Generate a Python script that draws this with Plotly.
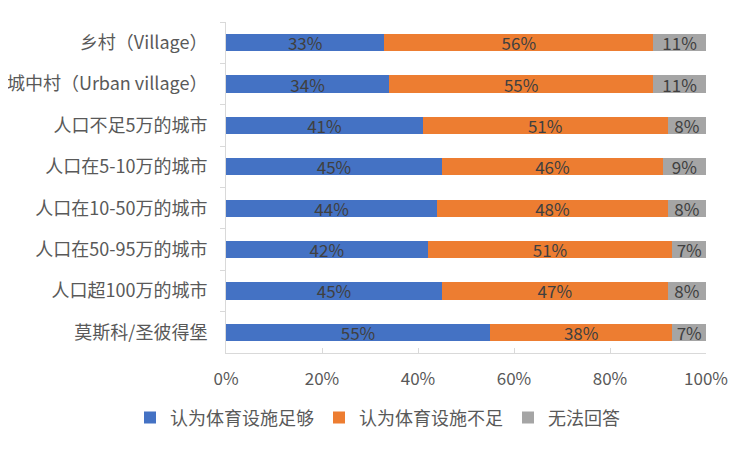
import plotly.graph_objects as go

categories = ["乡村（Village）", "城中村（Urban village）", "人口不足5万的城市", "人口在5-10万的城市",
              "人口在10-50万的城市", "人口在50-95万的城市", "人口超100万的城市", "莫斯科/圣彼得堡"]
enough = [33, 34, 41, 45, 44, 42, 45, 55]
insufficient = [56, 55, 51, 46, 48, 51, 47, 38]
no_answer = [11, 11, 8, 9, 8, 7, 8, 7]
series_names = ["认为体育设施足够", "认为体育设施不足", "无法回答"]
colors = ["#4472C4", "#ED7D31", "#A5A5A5"]

font_family = "Noto Sans CJK SC, Noto Sans, sans-serif"
fig = go.Figure()
for name, vals, col in zip(series_names, [enough, insufficient, no_answer], colors):
    fig.add_trace(go.Bar(
        y=categories, x=vals, name=name, orientation="h",
        marker=dict(color=col, line=dict(width=0)),
        text=[f"{v}%" for v in vals], textposition="inside", insidetextanchor="middle",
        textangle=0,
        textfont=dict(color="#404040", size=17, family=font_family),
        constraintext="none", cliponaxis=False,
    ))

fig.update_layout(
    barmode="stack", bargap=0.585,
    width=750, height=450,
    margin=dict(l=218, r=52, t=14, b=105),
    paper_bgcolor="white", plot_bgcolor="white",
    font=dict(family=font_family, size=17, color="#595959"),
    uniformtext=dict(mode=False),
    legend=dict(orientation="h", x=-0.2, xanchor="left", y=-0.196, yanchor="middle",
                font=dict(size=18, color="#595959"), traceorder="normal",
                itemwidth=30, tracegroupgap=0),
    xaxis=dict(range=[0, 100], tickvals=[0, 20, 40, 60, 80, 100],
               ticktext=["0%", "20%", "40%", "60%", "80%", "100%"],
               showgrid=False, zeroline=False, showline=True, linecolor="#D9D9D9", linewidth=1,
               ticks="inside", ticklen=5, tickcolor="#D9D9D9", automargin=False,
               ticklabelstandoff=11,
               tickfont=dict(size=17, color="#595959"), fixedrange=True),
    yaxis=dict(autorange="reversed", showgrid=False, showline=True, linecolor="#D9D9D9",
               linewidth=1, ticks="outside", ticklen=5, tickcolor="#D9D9D9", automargin=False,
               tickson="boundaries", ticklabelstandoff=14,
               tickfont=dict(size=18, color="#595959"), fixedrange=True),
)

fig.write_html("out.html")
